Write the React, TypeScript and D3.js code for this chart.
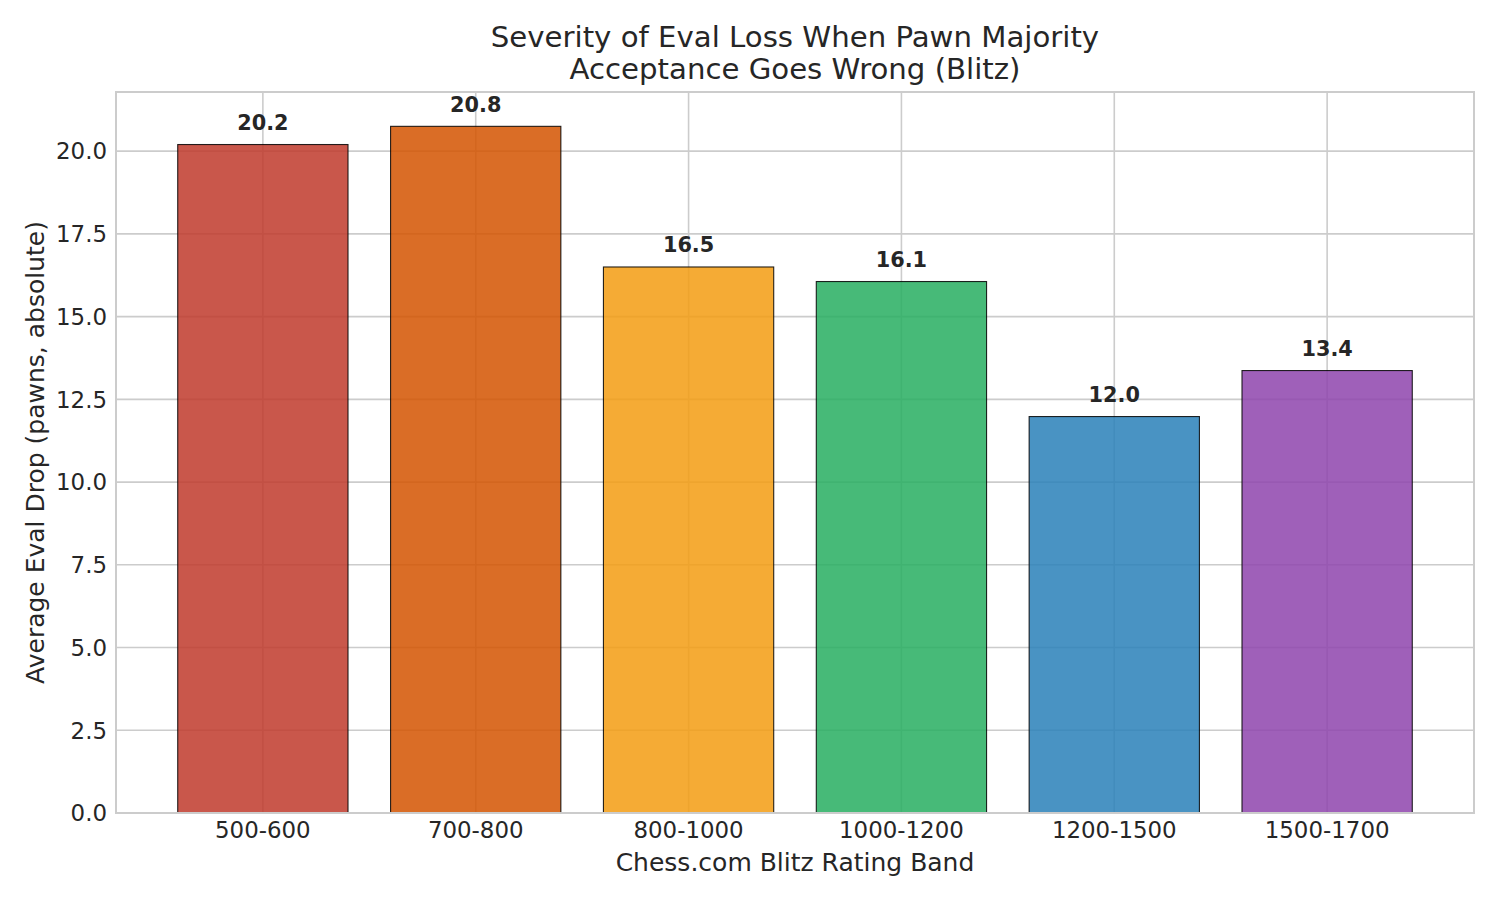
import React from "react";
import * as d3 from "d3";

const categories = ["500-600", "700-800", "800-1000", "1000-1200", "1200-1500", "1500-1700"];
const values = [20.2, 20.75, 16.5, 16.06, 11.98, 13.37];
const colors = ["#c0392b", "#d35400", "#f39c12", "#27ae60", "#2980b9", "#8e44ad"];
const yTicks = [0, 2.5, 5, 7.5, 10, 12.5, 15, 17.5, 20];
const titleLines = ["Severity of Eval Loss When Pawn Majority", "Acceptance Goes Wrong (Blitz)"];
const xLabel = "Chess.com Blitz Rating Band";
const yLabel = "Average Eval Drop (pawns, absolute)";

const W = 1500;
const H = 900;
const left = 116;
const right = 1474;
const top = 92;
const bottom = 813;
const textColor = "#262626";
const gridColor = "#cccccc";
const font = "'DejaVu Sans', sans-serif";

export default function App() {
  const n = categories.length;
  const barW = 0.8;
  const margin = (n - 1 + barW) * 0.05;
  const x = d3
    .scaleLinear()
    .domain([-barW / 2 - margin, n - 1 + barW / 2 + margin])
    .range([left, right]);
  const yMax = (d3.max(values) as number) * 1.05;
  const y = d3.scaleLinear().domain([0, yMax]).range([bottom, top]);
  const bw = x(barW) - x(0);

  return (
    <div style={{ position: "absolute", left: 0, top: 0 }}>
      <svg width={W} height={H} style={{ display: "block", background: "#fff" }} fontFamily={font}>
        <rect x={0} y={0} width={W} height={H} fill="#fff" />
        {/* grid */}
        {yTicks.map((t) => (
          <line key={"gy" + t} x1={left} x2={right} y1={y(t)} y2={y(t)} stroke={gridColor} strokeWidth={1.6} />
        ))}
        {categories.map((c, i) => (
          <line key={"gx" + c} x1={x(i)} x2={x(i)} y1={top} y2={bottom} stroke={gridColor} strokeWidth={1.6} />
        ))}
        {/* bars */}
        {values.map((v, i) => (
          <rect
            key={"b" + i}
            x={x(i) - bw / 2}
            y={y(v)}
            width={bw}
            height={y(0) - y(v)}
            fill={colors[i]}
            fillOpacity={0.85}
            stroke="#000"
            strokeOpacity={0.85}
            strokeWidth={1.1}
          />
        ))}
        {/* bar labels */}
        {values.map((v, i) => (
          <text
            key={"l" + i}
            x={x(i)}
            y={y(v) - 14.5}
            textAnchor="middle"
            fontSize={20.8}
            fontWeight="bold"
            fill={textColor}
          >
            {v.toFixed(1)}
          </text>
        ))}
        {/* spines */}
        <rect x={left} y={top} width={right - left} height={bottom - top} fill="none" stroke={gridColor} strokeWidth={2} />
        {/* y ticks */}
        {yTicks.map((t) => (
          <text
            key={"ty" + t}
            x={left - 9}
            y={y(t)}
            dy="0.36em"
            textAnchor="end"
            fontSize={22.9}
            fill={textColor}
          >
            {t.toFixed(1)}
          </text>
        ))}
        {/* x ticks */}
        {categories.map((c, i) => (
          <text key={"tx" + c} x={x(i)} y={838} textAnchor="middle" fontSize={22.9} fill={textColor}>
            {c}
          </text>
        ))}
        {/* axis labels */}
        <text x={(left + right) / 2} y={871} textAnchor="middle" fontSize={25} fill={textColor}>
          {xLabel}
        </text>
        <text
          transform={`translate(44, ${(top + bottom) / 2}) rotate(-90)`}
          textAnchor="middle"
          fontSize={25}
          fill={textColor}
        >
          {yLabel}
        </text>
        {/* title */}
        {titleLines.map((t, i) => (
          <text key={"t" + i} x={(left + right) / 2} y={47 + i * 32} textAnchor="middle" fontSize={29.2} fill={textColor}>
            {t}
          </text>
        ))}
      </svg>
    </div>
  );
}
